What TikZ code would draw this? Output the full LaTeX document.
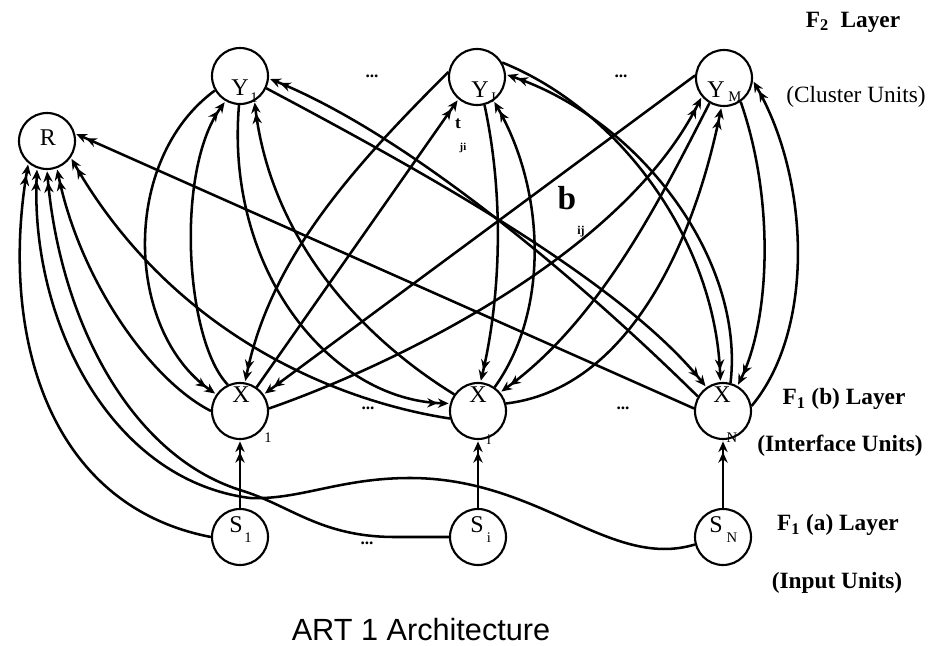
\documentclass[tikz,border=0pt]{standalone}
\usepackage{fontspec}
\setmainfont{Liberation Serif}
\newfontfamily\capfont{Liberation Sans}
\usetikzlibrary{arrows.meta}
\begin{document}
\begin{tikzpicture}[x=0.75pt,y=-0.75pt,
  unit/.style={circle,draw,line width=1.6pt,minimum size=42pt,inner sep=0pt},
  link/.style={line width=1.9pt},
  arr/.style={link,-{Stealth[length=8pt,width=7pt]Stealth[length=8pt,width=7pt]},shorten >=1pt},
  lbl/.style={font=\fontsize{18}{19}\selectfont,inner sep=0pt},
  blbl/.style={font=\bfseries\fontsize{17.5}{19}\selectfont,inner sep=0pt},
  sub/.style={font=\fontsize{11}{12}\selectfont,inner sep=0pt},
  dotsty/.style={font=\bfseries\fontsize{13}{14}\selectfont,inner sep=0pt}]
\useasboundingbox (0,0) rectangle (929,646);

% units
\node[unit] (R)  at (47,141) {};
\node[unit] (Y1) at (240,76) {};
\node[unit] (YJ) at (477,77) {};
\node[unit] (YM) at (724,78) {};
\node[unit] (X1) at (240,411) {};
\node[unit] (Xi) at (478,411) {};
\node[unit] (XN) at (723,411) {};
\node[unit] (S1) at (240,537) {};
\node[unit] (Si) at (478,537) {};
\node[unit] (SN) at (723,537) {};

% unit labels
\node[lbl] (lR)  at (48,138) {R};
\node[lbl] (lY1) at (240,88) {Y};  \node[sub] (sY1) at (254,98) {1};
\node[lbl] (lYJ) at (480,90) {Y};  \node[sub] (sYJ) at (493,98) {J};
\node[lbl] (lYM) at (716,90) {Y};  \node[sub] (sYM) at (735,97) {M};
\node[lbl] (lX1) at (241,395) {X}; \node[sub] (sX1) at (268,438) {1};
\node[lbl] (lXi) at (478,395) {X}; \node[sub] (sXi) at (489,440) {i};
\node[lbl] (lXN) at (722,395) {X}; \node[sub] (sXN) at (732,438) {N};
\node[lbl] (lS1) at (236,525) {S}; \node[sub] (sS1) at (248,538) {1};
\node[lbl] (lSi) at (477,525) {S}; \node[sub] (sSi) at (489,538) {i};
\node[lbl] (lSN) at (716,525) {S}; \node[sub] (sSN) at (732,538) {N};

% weight labels
\node[inner sep=0pt,font=\bfseries\fontsize{13}{14}\selectfont] (tl) at (458,124) {t};
\node[inner sep=0pt,font=\bfseries\fontsize{8}{9}\selectfont] (tji) at (463,148) {ji};
\node[inner sep=0pt,font=\bfseries\fontsize{25}{26}\selectfont] (bl) at (567,198) {b};
\node[inner sep=0pt,font=\bfseries\fontsize{9}{10}\selectfont] (bij) at (581,232) {ij};

% dots
\node[dotsty] (d1) at (372,76) {...};
\node[dotsty] (d2) at (621,76) {...};
\node[dotsty] (d3) at (368,408) {...};
\node[dotsty] (d4) at (623,408) {...};
\node[dotsty] (d5) at (367,543) {...};

% layer labels
\node[blbl] (f2) at (853,22) {F\textsubscript{2}~~Layer};
\node[lbl,font=\fontsize{17.5}{19}\selectfont] (cu) at (856,97) {(Cluster Units)};
\node[blbl] (f1b) at (844,399) {F\textsubscript{1} (b) Layer};
\node[blbl] (iu) at (840,446) {(Interface Units)};
\node[blbl] (f1a) at (838,525) {F\textsubscript{1} (a) Layer};
\node[blbl] (inu) at (837,583) {(Input Units)};
\node[inner sep=0pt,font=\capfont\fontsize{23}{24}\selectfont] (cap) at (421,630) {ART 1 Architecture};

% S -> X
\draw[arr] (S1) -- (X1);
\draw[arr] (Si) -- (Xi);
\draw[arr] (SN) -- (XN);

% into R
\draw[arr] (S1.west) .. controls (45,505) and (0,330) .. (R.-130);
\draw[arr] (SN.195) .. controls (610,570) and (540,478) .. (410,478)
           .. controls (340,478) and (300,500) .. (250,498)
           .. controls (110,480) and (30,320) .. (R.-110);
\draw[arr] (Si.west) -- (395,537) .. controls (320,537) and (290,505) .. (240,490)
           .. controls (130,455) and (60,320) .. (R.-90);
\draw[arr] (X1.west) .. controls (150,380) and (80,280) .. (R.-70);
\draw[arr] (Xi.195) .. controls (330,400) and (170,330) .. (R.-35);
\draw[arr] (XN.175) -- (R.15);

% F1(b) <-> F2
\draw[arr] (Y1.-150) .. controls (120,160) and (125,330) .. (X1.145);
\draw[arr] (X1.115) .. controls (185,340) and (175,170) .. (Y1.-120);
\draw[arr] (Y1.-92) .. controls (225,270) and (330,400) .. (Xi.165);
\draw[arr] (Xi.145) .. controls (350,330) and (270,230) .. (Y1.-60);
\draw[arr] (Y1.-25) .. controls (420,170) and (620,280) .. (XN.125);
\draw[arr] (XN.150) .. controls (600,300) and (420,140) .. (Y1.-5);

\draw[arr] (YJ.170) .. controls (350,170) and (270,260) .. (X1.80);
\draw[arr] (X1.55) -- (YJ.-130);
\draw[arr] (YJ.-75) .. controls (505,200) and (500,300) .. (Xi.85);
\draw[arr] (Xi.55) .. controls (550,310) and (545,190) .. (YJ.-55);
\draw[arr] (YJ.30) .. controls (620,110) and (715,240) .. (XN.95);
\draw[arr] (XN.75) .. controls (745,260) and (640,120) .. (YJ.5);

\draw[arr] (YM.175) -- (X1.35);
\draw[arr] (X1.5) .. controls (380,370) and (620,260) .. (YM.-140);
\draw[arr] (YM.-120) .. controls (660,200) and (600,320) .. (Xi.40);
\draw[arr] (Xi.15) .. controls (620,390) and (690,260) .. (YM.-95);
\draw[arr] (YM.-55) .. controls (775,200) and (770,320) .. (XN.60);
\draw[arr] (XN.10) .. controls (815,330) and (810,180) .. (YM.-5);
\end{tikzpicture}
\end{document}
